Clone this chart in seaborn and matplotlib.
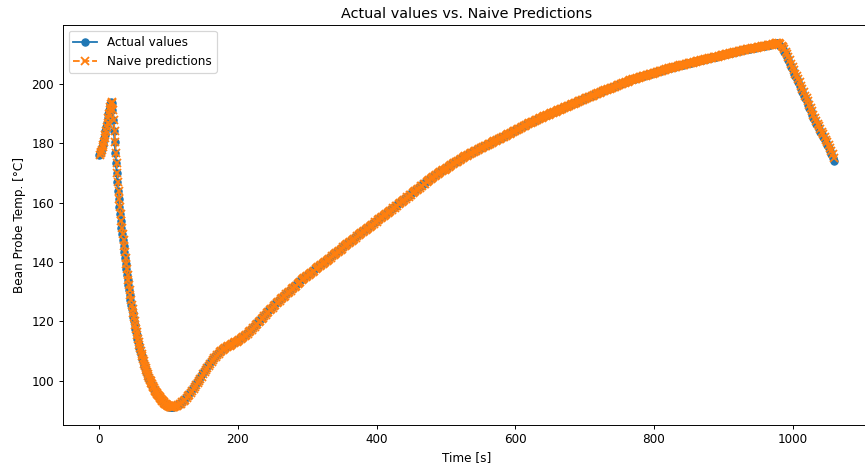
import numpy as np
import matplotlib
matplotlib.use("Agg")
import matplotlib.pyplot as plt
import seaborn as sns

# Bean probe temperature, 1 s sampling for t = 0..109 s
temp_fine = [
    176.0, 176.5, 177.1, 177.8, 178.6, 179.5, 180.5, 181.6, 182.8, 184.1,
    185.5, 186.9, 188.3, 189.7, 191.0, 192.2, 193.2, 193.8, 193.4, 191.2,
    187.9, 184.2, 180.4, 176.7, 173.2, 169.9, 166.8, 163.9, 161.1, 158.5,
    156.0, 153.7, 151.5, 149.4, 147.4, 145.4, 143.4, 141.4, 139.5, 137.6,
    135.8, 134.0, 132.3, 130.6, 128.9, 127.3, 125.7, 124.2, 122.8, 121.4,
    120.1, 118.8, 117.6, 116.4, 115.3, 114.2, 113.1, 112.1, 111.1, 110.1,
    109.2, 108.3, 107.4, 106.6, 105.8, 105.0, 104.3, 103.6, 102.9, 102.2,
    101.6, 101.0, 100.4, 99.9, 99.4, 98.9, 98.4, 97.9, 97.5, 97.1,
    96.7, 96.3, 95.9, 95.5, 95.2, 94.9, 94.5, 94.2, 93.9, 93.6,
    93.4, 93.1, 92.9, 92.6, 92.4, 92.2, 92.0, 91.9, 91.7, 91.6,
    91.5, 91.4, 91.3, 91.3, 91.3, 91.3, 91.3, 91.4, 91.5, 91.6,
]

# Bean probe temperature, every 2 s from t = 110 s to 1060 s
temp_coarse = [
    91.6, 91.8, 92.1, 92.4, 92.8,
    93.2, 93.7, 94.2, 94.8, 95.3,
    95.9, 96.6, 97.3, 97.9, 98.6,
    99.3, 100.0, 100.7, 101.4, 102.2,
    102.9, 103.6, 104.3, 105.0, 105.7,
    106.4, 107.0, 107.6, 108.2, 108.7,
    109.2, 109.6, 110.0, 110.4, 110.7,
    111.0, 111.3, 111.6, 111.9, 112.1,
    112.4, 112.7, 113.0, 113.2, 113.5,
    113.8, 114.1, 114.4, 114.8, 115.1,
    115.5, 115.9, 116.3, 116.8, 117.2,
    117.7, 118.2, 118.7, 119.2, 119.7,
    120.2, 120.7, 121.2, 121.8, 122.3,
    122.8, 123.3, 123.8, 124.3, 124.7,
    125.2, 125.6, 126.1, 126.5, 127.0,
    127.4, 127.8, 128.3, 128.7, 129.2,
    129.6, 130.0, 130.4, 130.9, 131.3,
    131.7, 132.1, 132.5, 133.0, 133.4,
    133.8, 134.2, 134.6, 134.9, 135.3,
    135.7, 136.1, 136.4, 136.8, 137.1,
    137.5, 137.9, 138.2, 138.6, 138.9,
    139.3, 139.7, 140.0, 140.4, 140.7,
    141.1, 141.5, 141.9, 142.2, 142.6,
    143.0, 143.4, 143.7, 144.1, 144.5,
    144.9, 145.3, 145.7, 146.0, 146.4,
    146.8, 147.2, 147.5, 147.9, 148.2,
    148.6, 149.0, 149.3, 149.7, 150.0,
    150.4, 150.8, 151.1, 151.5, 151.8,
    152.2, 152.6, 152.9, 153.3, 153.6,
    154.0, 154.4, 154.7, 155.1, 155.4,
    155.8, 156.2, 156.5, 156.9, 157.2,
    157.6, 158.0, 158.3, 158.7, 159.0,
    159.4, 159.8, 160.2, 160.5, 160.9,
    161.3, 161.7, 162.0, 162.4, 162.7,
    163.1, 163.5, 163.9, 164.2, 164.6,
    165.0, 165.4, 165.7, 166.1, 166.4,
    166.8, 167.2, 167.5, 167.9, 168.2,
    168.6, 168.9, 169.3, 169.6, 169.9,
    170.2, 170.5, 170.8, 171.1, 171.4,
    171.7, 172.0, 172.3, 172.6, 172.9,
    173.2, 173.5, 173.8, 174.1, 174.4,
    174.7, 175.0, 175.2, 175.5, 175.7,
    176.0, 176.2, 176.5, 176.7, 177.0,
    177.2, 177.4, 177.7, 177.9, 178.2,
    178.4, 178.6, 178.9, 179.1, 179.4,
    179.6, 179.8, 180.1, 180.3, 180.6,
    180.8, 181.0, 181.3, 181.5, 181.8,
    182.0, 182.2, 182.5, 182.7, 183.0,
    183.2, 183.4, 183.7, 183.9, 184.2,
    184.4, 184.6, 184.9, 185.1, 185.4,
    185.6, 185.8, 186.1, 186.3, 186.6,
    186.8, 187.0, 187.2, 187.5, 187.7,
    187.9, 188.1, 188.3, 188.6, 188.8,
    189.0, 189.2, 189.4, 189.6, 189.8,
    190.0, 190.2, 190.4, 190.6, 190.8,
    191.0, 191.2, 191.4, 191.6, 191.8,
    192.0, 192.2, 192.4, 192.6, 192.8,
    193.0, 193.2, 193.4, 193.6, 193.8,
    194.0, 194.2, 194.4, 194.6, 194.8,
    195.0, 195.2, 195.4, 195.6, 195.8,
    196.0, 196.2, 196.4, 196.6, 196.8,
    197.0, 197.2, 197.4, 197.5, 197.7,
    197.9, 198.1, 198.3, 198.4, 198.6,
    198.8, 199.0, 199.2, 199.4, 199.6,
    199.8, 200.0, 200.2, 200.3, 200.5,
    200.7, 200.9, 201.1, 201.2, 201.4,
    201.6, 201.7, 201.9, 202.0, 202.2,
    202.3, 202.4, 202.6, 202.7, 202.9,
    203.0, 203.1, 203.3, 203.4, 203.6,
    203.7, 203.8, 204.0, 204.1, 204.3,
    204.4, 204.5, 204.7, 204.8, 205.0,
    205.1, 205.2, 205.3, 205.5, 205.6,
    205.7, 205.8, 205.9, 206.1, 206.2,
    206.3, 206.4, 206.5, 206.7, 206.8,
    206.9, 207.0, 207.1, 207.3, 207.4,
    207.5, 207.6, 207.7, 207.9, 208.0,
    208.1, 208.2, 208.3, 208.4, 208.5,
    208.6, 208.7, 208.8, 208.9, 209.0,
    209.1, 209.2, 209.3, 209.5, 209.6,
    209.7, 209.8, 209.9, 210.1, 210.2,
    210.3, 210.4, 210.5, 210.7, 210.8,
    210.9, 211.0, 211.1, 211.2, 211.3,
    211.4, 211.5, 211.6, 211.7, 211.8,
    211.9, 212.0, 212.1, 212.1, 212.2,
    212.3, 212.4, 212.5, 212.6, 212.7,
    212.8, 212.9, 213.0, 213.0, 213.1,
    213.2, 213.3, 213.5, 213.6, 213.6,
    213.3, 212.8, 212.2, 211.5, 210.7,
    209.9, 208.9, 207.8, 206.7, 205.6,
    204.5, 203.4, 202.4, 201.4, 200.4,
    199.3, 198.2, 197.1, 196.0, 195.0,
    194.0, 192.9, 191.8, 190.7, 189.6,
    188.5, 187.5, 186.5, 185.6, 184.7,
    183.8, 182.9, 182.0, 181.1, 180.2,
    179.3, 178.3, 177.3, 176.2, 175.1,
    174.0,
]

time_fine = np.arange(len(temp_fine))
time_coarse = 110 + 2 * np.arange(len(temp_coarse))

time_s = np.concatenate([time_fine, time_coarse])
actual = np.array(temp_fine + temp_coarse)
# naive prediction: the previous reading
pred_time = time_s[1:]
naive = actual[:-1]

title = "Actual values vs. Naive Predictions"
x_label = "Time [s]"
y_label = "Bean Probe Temp. [°C]"

DPI = 86.5
fig = plt.figure(figsize=(865 / DPI, 467 / DPI), dpi=DPI)
ax = fig.add_axes([62.5 / 865, 42 / 467, 808.5 / 865, 400 / 467])

sns.lineplot(x=time_s, y=actual, ax=ax, sort=False, estimator=None,
             color="#1f77b4", marker="o", markersize=6,
             markeredgecolor="#1f77b4", markeredgewidth=1,
             linewidth=1.5, label="Actual values")
sns.lineplot(x=pred_time, y=naive, ax=ax, sort=False, estimator=None,
             color="#ff7f0e", marker="x", markersize=6,
             markeredgecolor="#ff7f0e", markeredgewidth=1.5,
             linewidth=1.5, linestyle="--", label="Naive predictions")

ax.set_title(title, fontsize=12)
ax.set_xlabel(x_label, fontsize=10)
ax.set_ylabel(y_label, fontsize=10)
ax.tick_params(labelsize=10)
ax.legend(loc="upper left", fontsize=10)

fig.savefig("out.png", dpi=DPI)
